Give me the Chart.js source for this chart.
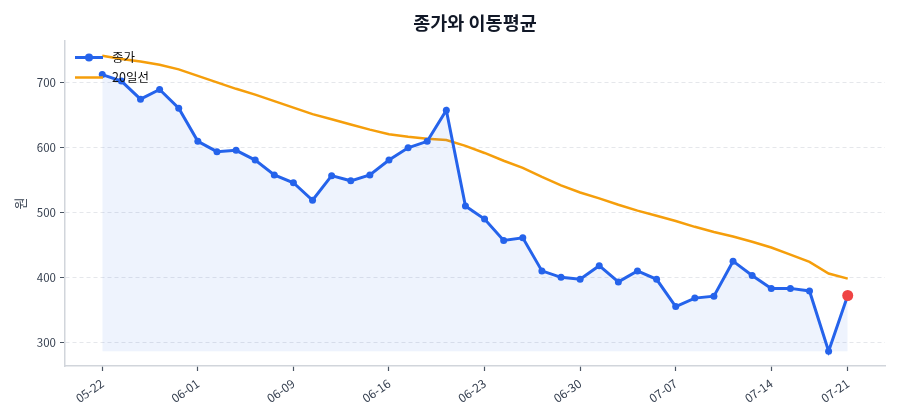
<!DOCTYPE html>
<html>
<head>
<meta charset="utf-8">
<script src="https://cdn.jsdelivr.net/npm/chart.js@4"></script>
<style>
  html, body { margin: 0; padding: 0; background: #fff; }
  #wrap { width: 900px; height: 420px; }
</style>
</head>
<body>
<div id="wrap"><canvas id="chart" width="900" height="420"></canvas></div>
<script>
// ── data ──
const dates = [
  '05-22', '05-23', '05-26', '05-27', '05-29', '06-01', '06-02', '06-04', '06-05', '06-06',
  '06-09', '06-10', '06-11', '06-12', '06-13', '06-16', '06-17', '06-18', '06-19', '06-20',
  '06-23', '06-24', '06-25', '06-26', '06-27', '06-30', '07-01', '07-02', '07-03', '07-04',
  '07-07', '07-08', '07-09', '07-10', '07-11', '07-14', '07-15', '07-16', '07-17', '07-21',
];
const closePrices = [
  713, 703, 675, 690, 661, 610, 594, 596, 581, 558,
  546, 519, 557, 549, 558, 581, 600, 610, 658, 510,
  490, 457, 461, 410, 400, 397, 418, 393, 410, 397,
  355, 368, 371, 425, 403, 383, 383, 379, 286, 372,
];
const ma20 = [
  742, 737, 733, 728, 721, 711, 701, 691, 682, 672,
  662, 652, 644, 636, 628, 621, 617, 614, 612, 603,
  592, 580, 569, 555, 542, 531, 522, 512, 503, 495,
  487, 478, 470, 463, 455, 446, 435, 424, 406, 398,
];
const xTickIdx = [0, 5, 10, 15, 20, 25, 30, 35, 39];
const yTicks = [300, 400, 500, 600, 700];

const TITLE = '종가와 이동평균';
const Y_LABEL = '원';
const LABEL_CLOSE = '종가';
const LABEL_MA = '20일선';

const BLUE = '#2563eb';
const ORANGE = '#f59e0b';
const RED = '#ef4444';
const FONT = '"Noto Sans CJK KR", "Noto Sans", sans-serif';

// matplotlib-like 5% margins
const lastIdx = closePrices.length - 1;
const yMin = Math.min(...closePrices, ...ma20);
const yMax = Math.max(...closePrices, ...ma20);
const yPad = (yMax - yMin) * 0.05;
const xPad = lastIdx * 0.05;

/** Title centred over the plot area + legend inside its top-left corner */
const decorPlugin = {
  id: 'decor',
  afterDatasetsDraw(chart) {
    const { ctx, chartArea } = chart;
    ctx.save();
    // title
    ctx.fillStyle = '#111827';
    ctx.font = `bold 18.5px ${FONT}`;
    ctx.textAlign = 'center';
    ctx.textBaseline = 'middle';
    ctx.fillText(TITLE, (chartArea.left + chartArea.right) / 2, 23);

    // legend
    const x0 = chartArea.left + 10;
    const items = [
      { label: LABEL_CLOSE, color: BLUE, width: 3, marker: true },
      { label: LABEL_MA, color: ORANGE, width: 2.5, marker: false },
    ];
    items.forEach((it, i) => {
      const y = chartArea.top + 16.5 + i * 20;
      ctx.strokeStyle = it.color;
      ctx.lineWidth = it.width;
      ctx.beginPath();
      ctx.moveTo(x0, y);
      ctx.lineTo(x0 + 28, y);
      ctx.stroke();
      if (it.marker) {
        ctx.fillStyle = it.color;
        ctx.beginPath();
        ctx.arc(x0 + 14, y, 4, 0, Math.PI * 2);
        ctx.fill();
      }
      ctx.fillStyle = '#111111';
      ctx.font = `12.5px ${FONT}`;
      ctx.textAlign = 'left';
      ctx.fillText(it.label, x0 + 37, y);
    });
    ctx.restore();
  },
};

new Chart(document.getElementById('chart'), {
  type: 'line',
  data: {
    datasets: [
      {
        label: LABEL_CLOSE,
        data: closePrices.map((v, i) => ({ x: i, y: v })),
        borderColor: BLUE,
        borderWidth: 3,
        backgroundColor: 'rgba(37, 99, 235, 0.08)',
        fill: { value: Math.min(...closePrices) },
        pointRadius: (c) => (c.dataIndex === lastIdx ? 5.5 : 3.5),
        pointBackgroundColor: (c) => (c.dataIndex === lastIdx ? RED : BLUE),
        pointBorderWidth: 0,
        tension: 0,
      },
      {
        label: LABEL_MA,
        data: ma20.map((v, i) => ({ x: i, y: v })),
        borderColor: ORANGE,
        borderWidth: 2.5,
        pointRadius: 0,
        fill: false,
        tension: 0,
      },
    ],
  },
  options: {
    responsive: false,
    animation: false,
    layout: { padding: { top: 41, right: 15, left: 0, bottom: 0 } },
    plugins: {
      legend: { display: false },
      title: { display: false },
      tooltip: { enabled: false },
    },
    scales: {
      x: {
        type: 'linear',
        min: -xPad,
        max: lastIdx + xPad,
        afterBuildTicks: (s) => { s.ticks = xTickIdx.map((v) => ({ value: v })); },
        afterFit: (s) => { s.height = 54; },
        grid: {
          drawOnChartArea: false,
          tickLength: 5,
          tickColor: '#4b5563',
          tickWidth: 1.2,
        },
        border: { color: '#d1d5db', width: 1.5 },
        ticks: {
          minRotation: 35,
          maxRotation: 35,
          autoSkip: false,
          padding: 5,
          color: '#374151',
          font: { family: FONT, size: 12 },
          callback: (v) => dates[v],
        },
      },
      y: {
        min: yMin - yPad,
        max: yMax + yPad,
        afterBuildTicks: (s) => { s.ticks = yTicks.map((v) => ({ value: v })); },
        afterFit: (s) => { s.width = 65; },
        grid: {
          color: '#e5e7eb',
          lineWidth: 1,
          tickLength: 5,
          tickColor: '#4b5563',
          tickWidth: 1.2,
          tickBorderDash: [1, 0],
        },
        border: { color: '#d1d5db', width: 1.5, dash: [4, 3] },
        ticks: {
          padding: 4,
          color: '#374151',
          font: { family: FONT, size: 11.5 },
        },
        title: {
          display: true,
          text: Y_LABEL,
          color: '#374151',
          font: { family: FONT, size: 13 },
          padding: { top: 12, bottom: 0 },
        },
      },
    },
  },
  plugins: [decorPlugin],
});
</script>
</body>
</html>
